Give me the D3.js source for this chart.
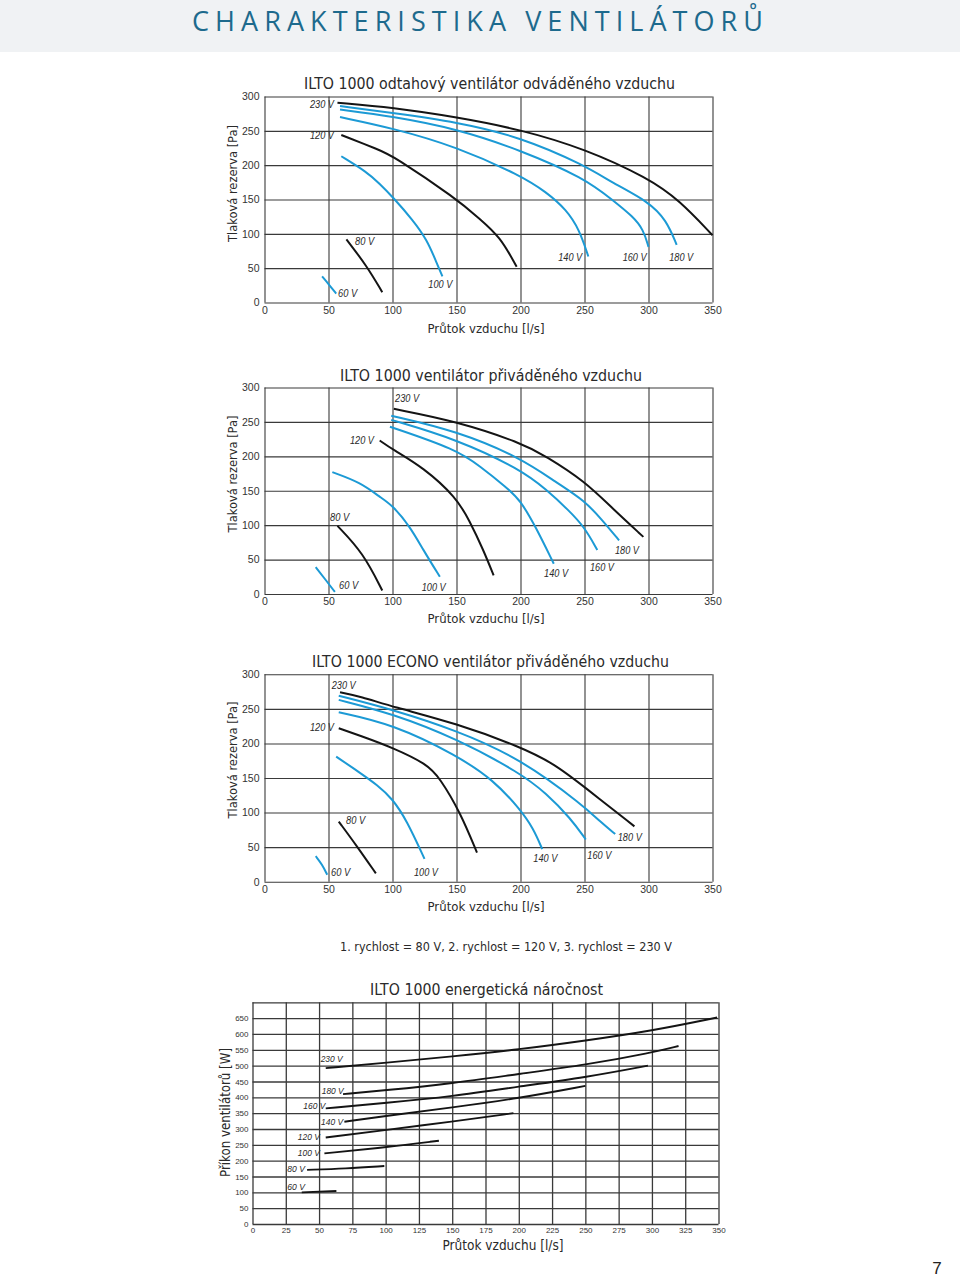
<!DOCTYPE html>
<html><head><meta charset="utf-8">
<script src="https://cdn.jsdelivr.net/npm/d3@7/dist/d3.min.js"></script>
<style>body{margin:0;background:#fff}</style>
</head><body>
<svg id="c" width="960" height="1279"></svg>
<script>
// ---------- DATA ----------
const pageTitle = "CHARAKTERISTIKA VENTILÁTORŮ";
const chartTitles = ["ILTO 1000 odtahový ventilátor odváděného vzduchu",
  "ILTO 1000 ventilátor přiváděného vzduchu",
  "ILTO 1000 ECONO ventilátor přiváděného vzduchu",
  "ILTO 1000 energetická náročnost"];
const xTitle = "Průtok vzduchu [l/s]";
const xTitlePower = "Průtok vzduchu  [l/s]";
const yTitlePressure = "Tlaková rezerva [Pa]";
const yTitlePower = "Příkon ventilátorů [W]";
const speedNote = "1. rychlost = 80 V,  2. rychlost = 120 V, 3. rychlost = 230 V";
const pageNumber = "7";

const xTicksPressure = [0,50,100,150,200,250,300,350];
const yTicksPressure = [0,50,100,150,200,250,300];
const xTicksPower = [0,25,50,75,100,125,150,175,200,225,250,275,300,325,350];
const yGridPower = [0,50,100,150,200,250,300,350,400,450,500,550,600,650,700];
const yTicksPower = [0,50,100,150,200,250,300,350,400,450,500,550,600,650];

const voltages = ["230 V","180 V","160 V","140 V","120 V","100 V","80 V","60 V"];
const blueVoltages = ["180 V","160 V","140 V","100 V","60 V"];

// Chart 1: exhaust fan [flow l/s, pressure Pa]
const odtah230 = [[57,291],[100,284],[150,270],[200,252],[250,224],[300,181],[324,149],[350,98]];
const odtah180 = [[59,286],[100,276],[150,263],[200,241],[250,200],[272,174],[300,147],[314,120],[322,84]];
const odtah160 = [[59,281],[100,271],[150,253],[200,222],[250,181],[272,149],[288,125],[296,106],[300,81]];
const odtah140 = [[59,270],[100,254],[150,227],[200,185],[220,161],[236,135],[246,106],[253,67]];
const odtah120 = [[60,244],[90,222],[100,214],[150,151],[168,122],[184,96],[197,52]];
const odtah100 = [[60,213],[80,190],[90,173],[100,154],[116,120],[127,91],[134,60],[139,38]];
const odtah80  = [[64,92],[80,53],[92,15]];
const odtah60  = [[45,38],[50,27],[56,13]];
const odtahLabelAt = [[35.5,288.6],[316.2,65.8],[279.8,65.8],[229.5,65.8],[35.5,242.9],[128,25.5],[70.7,88.5],[57.4,13.4]];

// Chart 2: supply fan
const privod230 = [[101,269],[150,251],[200,220],[220,200],[250,164],[272,124],[296,83]];
const privod180 = [[99,259],[150,237],[200,198],[228,162],[250,136],[264,107],[277,78]];
const privod160 = [[99,253],[150,225],[200,181],[220,152],[238,121],[250,97],[260,64]];
const privod140 = [[98,243],[150,210],[168,186],[189,155],[200,136],[212,97],[226,44]];
const privod120 = [[90,223],[100,210],[124,184],[150,140],[160,107],[171,64],[179,27]];
const privod100 = [[53,177],[75,162],[90,141],[100,129],[114,97],[124,64],[137,25]];
const privod80  = [[57,99],[77,60],[92,5]];
const privod60  = [[40,39],[48,20],[55,3]];
const privodLabelAt = [[102,284],[273.8,63.4],[254.3,38.1],[218.4,29.3],[66.8,223.3],[122.8,9.7],[51.2,110.6],[58.2,11.7]];

// Chart 3: ECONO supply fan
const econo230 = [[59,274],[75,268],[100,253],[150,229],[200,195],[226,171],[250,137],[289,80]];
const econo180 = [[58,269],[100,249],[150,219],[200,178],[250,109],[262,87],[274,69]];
const econo160 = [[58,263],[100,243],[150,207],[200,157],[220,128],[239,92],[251,61]];
const econo140 = [[58,245],[100,228],[150,183],[179,147],[200,104],[210,77],[217,47]];
const econo120 = [[58,222],[75,211],[100,194],[127,170],[137,150],[153,100],[166,42]];
const econo100 = [[56,181],[75,157],[88,140],[100,120],[111,89],[125,33]];
const econo80  = [[58,87],[72,52],[87,12]];
const econo60  = [[40,37],[45,25],[49,10]];
const econoLabelAt = [[52.5,284.5],[276,63.6],[252.2,38.6],[210,33.8],[35.5,222.8],[116.8,13.6],[63.7,88.2],[52,13.6]];

// Chart 4: power consumption [flow l/s, power W]
const power230 = [[55,492],[100,509],[150,529],[200,551],[250,579],[300,610],[349,652]];
const power180 = [[68,410],[100,422],[150,444],[200,474],[250,502],[300,541],[320,562]];
const power160 = [[55,365],[100,382],[150,403],[200,434],[250,463],[297,500]];
const power140 = [[69,323],[100,341],[150,368],[200,397],[250,436]];
const power120 = [[55,273],[100,297],[150,323],[196,350]];
const power100 = [[54,223],[100,242],[140,263]];
const power80  = [[41,171],[70,175],[99,183]];
const power60  = [[37,100],[63,104]];
const powerLabelAt = [[51.2,520],[52,421],[38.2,372.6],[51.5,321],[34,273.8],[34,225],[26.1,173.7],[26.1,117.8]];

// ---------- DRAWING ----------
const svg = d3.select("#c");
const BLUE = "#1c9ad5", BLACK = "#141414", GRID = "#3a3a3a", TXT = "#2a2a2a";
const TITLE_FONT = "'DejaVu Sans', Verdana, sans-serif";
const TICK_FONT = "'Liberation Sans', Arial, sans-serif";

// header band
svg.append("rect").attr("x",0).attr("y",0).attr("width",960).attr("height",52).attr("fill","#f0f2f4");
svg.append("text").attr("x",477.5).attr("y",31).attr("text-anchor","middle")
  .attr("font-family","'Open Sans', sans-serif").attr("font-size",27).attr("fill","#1d6a8d")
  .attr("textLength",571).attr("lengthAdjust","spacing").text(pageTitle);

function fitText(x, y, str, size, width, opts={}) {
  const t = svg.append("text").attr("x",x).attr("y",y).attr("text-anchor","middle")
    .attr("font-family",opts.family||TITLE_FONT).attr("font-size",size).attr("fill",TXT)
    .attr("textLength",width).attr("lengthAdjust","spacingAndGlyphs").text(str);
  if (opts.rotate) t.attr("transform",`rotate(-90,${x},${y})`);
  return t;
}

function drawChart(cfg) {
  const x = d3.scaleLinear().domain([0,350]).range(cfg.xr);
  const y = d3.scaleLinear().domain([0,cfg.ymax]).range(cfg.yr);
  const g = svg.append("g");
  const w = cfg.xr[1]-cfg.xr[0], h = cfg.yr[0]-cfg.yr[1];

  const ax = g.append("g").attr("transform",`translate(0,${cfg.yr[0]})`)
    .call(d3.axisBottom(x).tickValues(cfg.xGrid).tickSize(-h).tickPadding(cfg.xPad).tickFormat(d3.format("d")));
  const ay = g.append("g").attr("transform",`translate(${cfg.xr[0]},0)`)
    .call(d3.axisLeft(y).tickValues(cfg.yGrid).tickSize(-w).tickPadding(cfg.yPad)
      .tickFormat(d => cfg.yTicks.includes(d) ? d : ""));
  [ax,ay].forEach(a => {
    a.select(".domain").remove();
    a.selectAll(".tick line").attr("stroke",GRID).attr("stroke-width",cfg.gridW);
    a.selectAll(".tick text").attr("fill","#333").attr("font-family",TICK_FONT).attr("font-size",cfg.tickSize);
  });

  const line = d3.line().x(d=>x(d[0])).y(d=>y(d[1])).curve(d3.curveBasis);
  cfg.curves.forEach((pts,i) => {
    const v = voltages[i];
    g.append("path").attr("d",line(pts)).attr("fill","none")
      .attr("stroke", cfg.allBlack ? BLACK : (blueVoltages.includes(v) ? BLUE : BLACK))
      .attr("stroke-width",cfg.lineW).attr("stroke-linecap","butt");
    g.append("text").attr("x",x(cfg.labels[i][0])).attr("y",y(cfg.labels[i][1]))
      .attr("dy","0.35em").attr("font-family",TICK_FONT).attr("font-style","italic")
      .attr("font-size",cfg.labelSize).attr("fill",TXT).attr("textLength",cfg.labelW*(v.length/5))
      .attr("lengthAdjust","spacingAndGlyphs").text(v);
  });
}

const pressureBase = {xr:[264.5,712.5], ymax:300, xGrid:xTicksPressure, yGrid:yTicksPressure, yTicks:yTicksPressure,
  xPad:4, yPad:5, gridW:1.1, tickSize:10.5, lineW:2, labelSize:10, labelW:24};

drawChart({...pressureBase, yr:[302.5,96.5], curves:[odtah230,odtah180,odtah160,odtah140,odtah120,odtah100,odtah80,odtah60], labels:odtahLabelAt});
drawChart({...pressureBase, yr:[594,387.5], curves:[privod230,privod180,privod160,privod140,privod120,privod100,privod80,privod60], labels:privodLabelAt});
drawChart({...pressureBase, yr:[881.7,674.3], curves:[econo230,econo180,econo160,econo140,econo120,econo100,econo80,econo60], labels:econoLabelAt});
drawChart({xr:[252.5,718.5], yr:[1224,1002.3], ymax:700, xGrid:xTicksPower, yGrid:yGridPower, yTicks:yTicksPower,
  xPad:3, yPad:4, gridW:1.3, tickSize:8, lineW:1.9, labelSize:9, labelW:22, allBlack:true,
  curves:[power230,power180,power160,power140,power120,power100,power80,power60], labels:powerLabelAt});

// titles
fitText(489.5, 88.5, chartTitles[0], 16, 371);
fitText(491, 381, chartTitles[1], 16, 302);
fitText(490.5, 667, chartTitles[2], 16, 357);
fitText(486.5, 995, chartTitles[3], 16, 233);
// x titles
fitText(486, 332.5, xTitle, 13, 117);
fitText(486, 622.5, xTitle, 13, 117);
fitText(486, 910.5, xTitle, 13, 117);
fitText(503, 1250, xTitlePower, 13.5, 121);
// y titles
fitText(236.5, 183.5, yTitlePressure, 13, 117, {rotate:true});
fitText(236.5, 474, yTitlePressure, 13, 117, {rotate:true});
fitText(236.5, 760, yTitlePressure, 13, 117, {rotate:true});
fitText(229.5, 1112.5, yTitlePower, 14, 129, {rotate:true});
// note and page number
fitText(506, 950.5, speedNote, 13, 332);
svg.append("text").attr("x",937).attr("y",1274).attr("text-anchor","middle")
  .attr("font-family",TICK_FONT).attr("font-size",17).attr("fill","#222").text(pageNumber);
</script>
</body></html>
